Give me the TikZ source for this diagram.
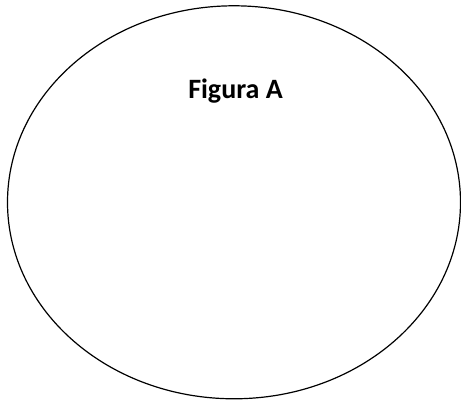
\documentclass[tikz,border=0pt]{standalone}
\usepackage{fontspec}
\setmainfont{Carlito}
\usepackage{tikz}
\usetikzlibrary{shapes.geometric}

\begin{document}
\begin{tikzpicture}[
    x=1pt, y=1pt,
    outline/.style={draw, ellipse, line width=1.2pt, minimum width=453pt, minimum height=393pt, inner sep=0pt},
    title/.style={font=\fontsize{28}{30}\selectfont\bfseries, anchor=base, inner sep=0pt},
]
\useasboundingbox (0,0) rectangle (461,403);

% the outline
\node[outline] (fig) at (234,200.7) {};

% caption inside
\node[title] (lbl) at (235.5,304) {Figura A};

\end{tikzpicture}
\end{document}
